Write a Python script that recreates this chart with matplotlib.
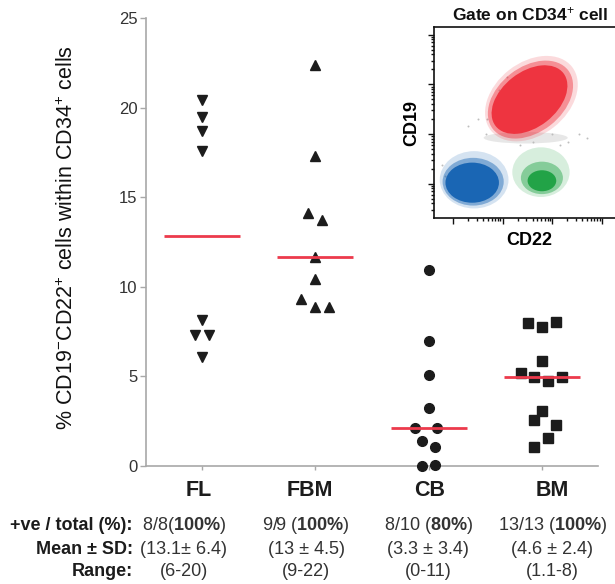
import numpy as np
import matplotlib.pyplot as plt
from matplotlib.patches import Ellipse
from matplotlib.transforms import blended_transform_factory

plt.rcParams['font.family'] = ['Liberation Sans', 'DejaVu Sans']
plt.rcParams['mathtext.fontset'] = 'custom'
plt.rcParams['mathtext.rm'] = 'Liberation Sans'
plt.rcParams['mathtext.bf'] = 'Liberation Sans:bold'
plt.rcParams['mathtext.it'] = 'Liberation Sans:italic'

# ---- data ----
groups = ['FL', 'FBM', 'CB', 'BM']
markers = ['v', '^', 'o', 's']

fl_vals = [20.4, 19.5, 18.7, 17.6, 8.15, 7.3, 7.3, 6.1]
fl_offs = [0, 0, 0, 0, 0, -0.062, 0.062, 0]
fbm_vals = [22.4, 17.3, 14.1, 13.7, 11.65, 10.45, 9.3, 8.9, 8.9]
fbm_offs = [0, 0, -0.062, 0.062, 0, 0, -0.124, 0, 0.124]
cb_vals = [10.95, 6.95, 5.07, 3.26, 2.11, 2.11, 1.38, 1.06, 0.0, 0.06]
cb_offs = [0, 0, 0, 0, -0.12, 0.07, -0.06, 0.06, -0.06, 0.06]
bm_vals = [7.98, 7.77, 8.05, 5.87, 5.18, 4.98, 4.75, 4.98, 3.08, 2.56, 2.29, 1.58, 1.06]
bm_offs = [-0.124, 0, 0.124, 0, -0.185, -0.07, 0.053, 0.176, 0, -0.07, 0.124, 0.053, -0.07]
means = [12.83, 11.65, 2.11, 4.98]

row_labels = ['+ve / total (%):', 'Mean ± SD:', 'Range:']
pos_total = ['8/8($\\mathbf{100\\%}$)', '9/9 ($\\mathbf{100\\%}$)',
             '8/10 ($\\mathbf{80\\%}$)', '13/13 ($\\mathbf{100\\%}$)']
mean_sd = ['(13.1± 6.4)', '(13 ± 4.5)', '(3.3 ± 3.4)', '(4.6 ± 2.4)']
ranges = ['(6-20)', '(9-22)', '(0-11)', '(1.1-8)']

# flow inset populations: (x, y, width, height, angle) in 0-100 plot units,
# listed from sparse outer edge to dense core
red_layers = [(51.0, 62.5, 54, 38, 38), (50.5, 62.0, 50, 34, 38), (50.0, 62.0, 45, 29, 38)]
blue_layers = [(21.0, 20.0, 36, 30, 0), (20.5, 19.0, 32, 25, 0), (20.0, 18.5, 28, 21, 0)]
green_layers = [(56.0, 24.0, 30, 26, 0), (56.5, 21.0, 22, 17, 0), (56.5, 19.5, 15, 11, 0)]
layer_alpha = [0.18, 0.45, 1.0]
gray_band = (48.0, 42.0, 44, 6, 0)
gray_x = [4, 6, 18, 23, 28, 34, 38, 42, 62, 70, 76, 80, 45, 52, 27, 33, 66]
gray_y = [28, 22, 48, 52, 52, 67, 74, 45, 44, 40, 44, 42, 38, 40, 44, 60, 38]

# ---- figure ----
fig = plt.figure(figsize=(6.15, 5.84), dpi=100)
ax = fig.add_axes([146/615, 1 - 466/584, 452/615, 448/584])
ax.set_xlim(-0.494, 3.494)
ax.set_ylim(0, 25)

all_vals = [fl_vals, fbm_vals, cb_vals, bm_vals]
all_offs = [fl_offs, fbm_offs, cb_offs, bm_offs]
for i, (vals, offs, m) in enumerate(zip(all_vals, all_offs, markers)):
    ms = 7.2 if m in 'v^' else 7.0
    ax.plot(np.array(offs) + i, vals, linestyle='none', marker=m, ms=ms,
            color='#1c1c1c', clip_on=False, zorder=3)
    ax.hlines(means[i], i - 0.335, i + 0.335, color='#ec3a4c', lw=2.0, zorder=4)

for s in ['top', 'right']:
    ax.spines[s].set_visible(False)
for s in ['left', 'bottom']:
    ax.spines[s].set_color('#a8a8a8')
    ax.spines[s].set_linewidth(1.2)

ax.set_yticks([0, 5, 10, 15, 20, 25])
ax.tick_params(axis='y', direction='out', length=4.3, width=1, color='#a8a8a8',
               labelcolor='#333333', labelsize=12, pad=2)
ax.set_xticks(range(len(groups)))
ax.set_xticklabels([])
ax.tick_params(axis='x', direction='out', length=3, width=1, color='#a8a8a8')

ax.set_ylabel('% CD19$^{-}$CD22$^{+}$ cells within CD34$^{+}$ cells',
              fontsize=15.5, color='#111111')
ax.yaxis.set_label_coords(-0.150, 0.509)

trans = blended_transform_factory(ax.transData, ax.transAxes)
label_x = [-0.026, 0.953, 2.012, 3.089]
for x, g in zip(label_x, groups):
    ax.text(x, -0.0536, g, transform=trans, ha='center', va='center',
            fontsize=15.5, fontweight='bold', color='#1c1c1c')

col_x = [-0.159, 0.918, 1.995, 3.089]
row_y = [-0.1333, -0.1853, -0.2359]
for ry, lab in zip(row_y, row_labels):
    ax.text(-0.0288, ry, lab, transform=ax.transAxes, ha='right', va='center',
            fontsize=13, fontweight='bold', color='#1c1c1c')
for ry, row in zip(row_y, [pos_total, mean_sd, ranges]):
    for x, t in zip(col_x, row):
        ax.text(x, ry, t, transform=trans, ha='center', va='center',
                fontsize=13, color='#333333')

# ---- flow cytometry inset ----
ins = fig.add_axes([434/615, 1 - 218/584, 191/615, 191/584])
ins.set_xlim(0, 100)
ins.set_ylim(0, 100)
ins.spines['right'].set_visible(False)
for s in ['top', 'left', 'bottom']:
    ins.spines[s].set_color('#111111')
    ins.spines[s].set_linewidth(1.2)

def pop(e, color, alpha):
    ins.add_patch(Ellipse((e[0], e[1]), e[2], e[3], angle=e[4],
                          facecolor=color, edgecolor='none', alpha=alpha))

pop(gray_band, '#d0d0d0', 0.5)
ins.scatter(gray_x, gray_y, s=2, color='#bdbdbd', lw=0)
for layers, color in [(red_layers, '#ee3440'), (blue_layers, '#1a66b4'),
                      (green_layers, '#22a347')]:
    for e, a in zip(layers, layer_alpha):
        pop(e, color, a)

dec = 26.0
yt_major = [-8 + dec * k for k in range(5)]
yt_minor = [d + dec * np.log10(k) for d in yt_major for k in range(2, 10)]
xt_major = [10 + dec * k for k in range(4)]
xt_minor = [d + dec * np.log10(k) for d in xt_major for k in range(2, 10)]
ins.set_yticks([v for v in yt_major if 0 <= v <= 100])
ins.set_yticks([v for v in yt_minor if 0 <= v <= 100], minor=True)
ins.set_xticks([v for v in xt_major if 0 <= v <= 100])
ins.set_xticks([v for v in xt_minor if 0 <= v <= 100], minor=True)
ins.tick_params(which='both', direction='out', color='#111111', width=1,
                labelleft=False, labelbottom=False)
ins.tick_params(which='major', length=4)
ins.tick_params(which='minor', length=2.5)
ins.set_ylabel('CD19', fontsize=13, fontweight='bold', labelpad=6)
ins.set_xlabel('CD22', fontsize=13, fontweight='bold', labelpad=6)
fig.text(452/615, 1 - 14/584, 'Gate on CD34$^{+}$ cell', ha='left', va='center',
         fontsize=12.5, fontweight='bold', color='#111111')

fig.savefig('out.png', dpi=100)
